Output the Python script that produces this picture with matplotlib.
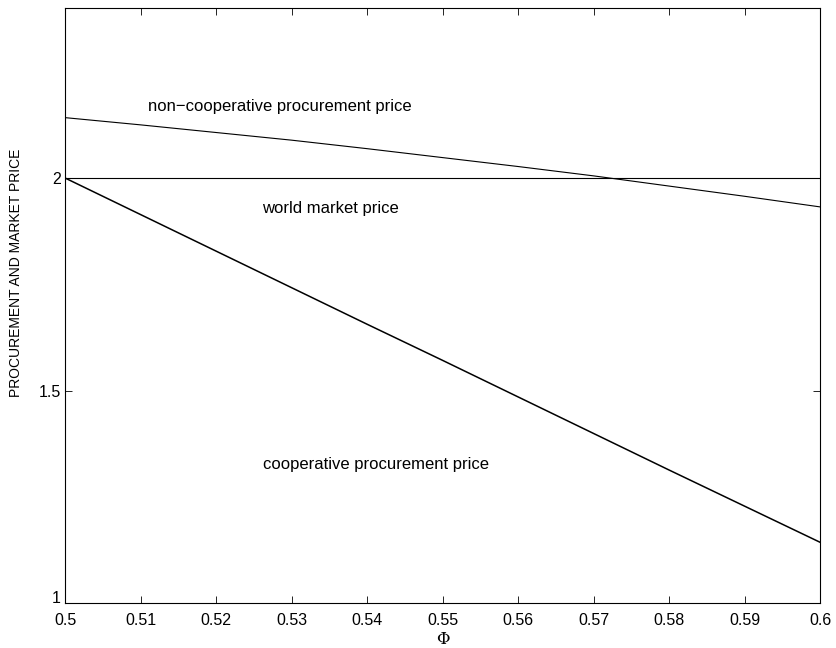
import matplotlib
matplotlib.use('Agg')
import matplotlib.pyplot as plt
import matplotlib.transforms as mtransforms

plt.rcParams['font.family'] = ['Liberation Sans', 'DejaVu Sans']

# values
phi = [0.50, 0.51, 0.52, 0.53, 0.54, 0.55, 0.56, 0.57, 0.58, 0.59, 0.60]
noncoop = [2.142, 2.125, 2.107, 2.089, 2.069, 2.048, 2.027, 2.005, 1.981, 1.957, 1.932]
coop = [2.000, 1.914, 1.828, 1.742, 1.656, 1.571, 1.485, 1.399, 1.313, 1.228, 1.143]
world = 2.0

xticks = [0.5, 0.51, 0.52, 0.53, 0.54, 0.55, 0.56, 0.57, 0.58, 0.59, 0.6]
xticklabels = ['0.5', '0.51', '0.52', '0.53', '0.54', '0.55', '0.56', '0.57', '0.58', '0.59', '0.6']
yticks = [1, 1.5, 2]
yticklabels = ['1', '1.5', '2']

fig = plt.figure(figsize=(8.37, 6.48), dpi=100)
ax = fig.add_axes([0.0777, 0.0694, 0.902, 0.9183])

ax.plot(phi, noncoop, color='black', linewidth=0.8)
ax.axhline(world, color='black', linewidth=0.8)
ax.plot(phi, coop, color='black', linewidth=1.1)

ax.text(0.511, 2.169, 'non\u2212cooperative procurement price', fontsize=12, va='center')
ax.text(0.5261, 1.929, 'world market price', fontsize=12, va='center')
ax.text(0.5262, 1.325, 'cooperative procurement price', fontsize=12, va='center')

ax.set_xlim(0.5, 0.6)
ax.set_ylim(1, 2.4)
ax.set_xticks(xticks)
ax.set_xticklabels(xticklabels)
ax.set_yticks(yticks)
ax.set_yticklabels(yticklabels)
ax.tick_params(direction='in', top=True, right=True, length=5, width=0.6, labelsize=11.5)
ax.tick_params(axis='x', pad=7)
ax.tick_params(axis='y', pad=3)
for s in ax.spines.values():
    s.set_linewidth(0.8)

# lift the "1" label a little so it sits above "0.5", as in the original
lbl = ax.get_yticklabels()[0]
lbl.set_transform(lbl.get_transform() + mtransforms.ScaledTranslation(0, 4 / 72, fig.dpi_scale_trans))

ax.set_xlabel('\u03a6', fontsize=12, family='DejaVu Serif', labelpad=2)
ax.set_ylabel('PROCUREMENT AND MARKET PRICE', fontsize=10)
ax.yaxis.set_label_coords(-0.0556, 0.555)

fig.savefig('out.png', dpi=100)
